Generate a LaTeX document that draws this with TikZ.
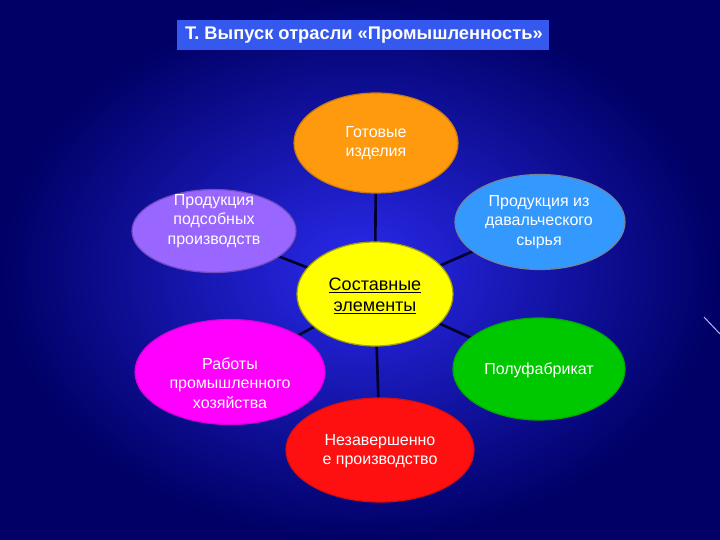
\documentclass[tikz,border=0pt]{standalone}
\usepackage{fontspec}
\setmainfont{Liberation Sans}
\usetikzlibrary{shapes.geometric}
\pgfdeclarelayer{bg}
\pgfdeclarelayer{links}
\pgfsetlayers{bg,links,main}
\definecolor{bgin}{HTML}{2A2AEE}
\definecolor{bgout}{HTML}{000066}
\definecolor{titlefill}{HTML}{3558EE}
\definecolor{cOrange}{HTML}{FF9A0F}
\definecolor{cPurple}{HTML}{9966FF}
\definecolor{cLBlue}{HTML}{3399FF}
\definecolor{cYellow}{HTML}{FFFF00}
\definecolor{cMagenta}{HTML}{FF00FF}
\definecolor{cGreen}{HTML}{00C800}
\definecolor{cRed}{HTML}{FF1010}
\definecolor{linkcol}{HTML}{000028}
\tikzset{
  blob/.style={ellipse, inner sep=0pt, line width=1.2pt},
  lbl/.style={align=center, text=white, font=\fontsize{16}{19.5}\selectfont, inner sep=0pt},
  link/.style={draw=linkcol, line width=2.6pt}
}
\begin{document}
\begin{tikzpicture}[x=1pt,y=-1pt]
\begin{pgfonlayer}{bg}
\shade[inner color=bgin, outer color=bgout] (0,0) rectangle (720,540);
\end{pgfonlayer}
\useasboundingbox (0,0) rectangle (720,540);
\draw[color=blue!30!white, line width=1pt] (704,317) -- (720,334);
% title
\node[fill=titlefill, minimum width=372pt, minimum height=30pt, inner sep=0pt, anchor=north west] (title) at (177,20) {};
\node[anchor=west, inner sep=0pt, text=white, font=\fontsize{18.3}{22}\selectfont\bfseries] (titletext) at (185,35.5) {Т. Выпуск отрасли «Промышленность»};
% ellipses
\node[blob, fill=cOrange, draw=cOrange!80!black, minimum width=164pt, minimum height=100pt] (orange) at (376,143) {};
\node[blob, fill=cPurple, draw=cPurple!75!black, minimum width=164pt, minimum height=83pt] (purple) at (214,231) {};
\node[blob, fill=cLBlue, draw=gray!80!cLBlue, minimum width=170pt, minimum height=95pt] (lblue) at (540,222) {};
\node[blob, fill=cYellow, draw=cYellow!65!black, minimum width=156pt, minimum height=104pt] (yellow) at (375,294) {};
\node[blob, fill=cRed, draw=cRed!85!black, minimum width=188pt, minimum height=104pt] (red) at (380,450) {};
\node[blob, fill=cMagenta, draw=cMagenta!85!black, minimum width=190pt, minimum height=105pt] (magenta) at (230,372) {};
\node[blob, fill=cGreen, draw=cGreen!85!black, minimum width=172pt, minimum height=102pt] (green) at (539,369) {};
% connectors
\begin{pgfonlayer}{links}
\draw[link] (yellow.center) -- (orange.center);
\draw[link] (yellow.center) -- (purple.center);
\draw[link] (yellow.center) -- (lblue.center);
\draw[link] (yellow.center) -- (magenta.center);
\draw[link] (yellow.center) -- (green.center);
\draw[link] (yellow.center) -- (red.center);
\end{pgfonlayer}
% labels
\node[lbl] (tOrange) at (376,143) {Готовые\\изделия};
\node[lbl] (tPurple) at (214,221) {Продукция\\подсобных\\производств};
\node[lbl] (tLBlue) at (539,222) {Продукция из\\давальческого\\сырья};
\node[lbl, text=black, font=\fontsize{18}{21}\selectfont] (tYellow) at (375,296) {\underline{Составные}\\\underline{элементы}};
\node[lbl] (tMagenta) at (230,383) {Работы\\промышленного\\хозяйства};
\node[lbl] (tGreen) at (539,370) {Полуфабрикат};
\node[lbl] (tRed) at (380,451) {Незавершенно\\е производство};
\end{tikzpicture}
\end{document}
